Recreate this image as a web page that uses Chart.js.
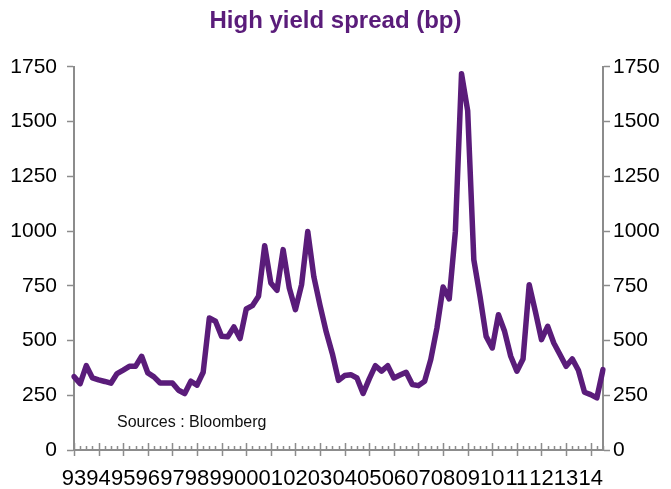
<!DOCTYPE html>
<html>
<head>
<meta charset="utf-8">
<script src="https://cdn.jsdelivr.net/npm/chart.js@4/dist/chart.umd.min.js"></script>
<style>
  body { margin: 0; background: #fff; }
  #wrap { width: 671px; height: 489px; }
</style>
</head>
<body>
<div id="wrap"><canvas id="spread-chart"></canvas></div>
<script>
// year tick labels (one per year, data is quarterly)
const yearLabels = ['93','94','95','96','97','98','99','00','01','02','03','04','05','06','07','08','09','10','11','12','13','14'];
// high yield spread in bp, quarterly from 1993 Q1 to 2014 Q3
const spread = [
  335, 303, 385, 329, 320, 313, 305, 349,
  365, 382, 382, 428, 352, 334, 306, 306,
  306, 273, 258, 314, 296, 355, 603, 588,
  519, 517, 562, 509, 644, 659, 702, 933,
  763, 729, 915, 740, 641, 755, 998, 790,
  660, 540, 440, 318, 340, 344, 329, 258,
  325, 385, 360, 385, 329, 342, 355, 299,
  294, 314, 413, 557, 744, 690, 998, 1718,
  1550, 869, 702, 519, 466, 618, 542, 428,
  360, 416, 755, 633, 504, 565, 489, 436,
  382, 416, 364, 264, 253, 238, 367
];
const yTicks = [0, 250, 500, 750, 1000, 1250, 1500, 1750];

const purple = '#5a1c7a';
const axisGrey = '#8c8c8c';
const labels = spread.map((v, i) => i % 4 === 0 ? yearLabels[i / 4] : '');

// minor / major tick marks on the x axis plus the source note
const extras = {
  id: 'extras',
  afterDraw(chart) {
    const ctx = chart.ctx;
    const x = chart.scales.x;
    const yb = x.top;
    ctx.save();
    ctx.strokeStyle = axisGrey;
    ctx.lineWidth = 1.5;
    ctx.beginPath();
    for (let i = 0; i < spread.length; i++) {
      const px = Math.round(x.getPixelForValue(i)) + 0.5;
      if (i % 4 === 0) {
        ctx.moveTo(px, yb - 7);
        ctx.lineTo(px, yb + 6);
      } else {
        ctx.moveTo(px, yb - 4);
        ctx.lineTo(px, yb);
      }
    }
    ctx.stroke();
    ctx.fillStyle = '#111';
    ctx.font = '16px "Liberation Sans", Arial, sans-serif';
    ctx.textBaseline = 'middle';
    ctx.fillText('Sources : Bloomberg', 117, 423);
    ctx.restore();
  }
};

const fontFamily = '"Liberation Sans", Arial, sans-serif';

new Chart(document.getElementById('spread-chart'), {
  type: 'line',
  data: {
    labels: labels,
    datasets: [{
      data: spread,
      borderColor: purple,
      borderWidth: 5.5,
      borderJoinStyle: 'round',
      borderCapStyle: 'round',
      pointRadius: 0,
      tension: 0,
      fill: false
    }]
  },
  options: {
    responsive: true,
    maintainAspectRatio: false,
    animation: false,
    layout: { padding: 0 },
    plugins: {
      legend: { display: false },
      tooltip: { enabled: false },
      title: {
        display: true,
        text: 'High yield spread (bp)',
        color: purple,
        font: { family: fontFamily, size: 24, weight: 'bold' },
        padding: { top: 7, bottom: 31 }
      }
    },
    scales: {
      x: {
        type: 'category',
        offset: false,
        grid: { display: false },
        border: { display: true, color: axisGrey, width: 2 },
        ticks: {
          autoSkip: false,
          maxRotation: 0,
          color: '#000',
          font: { family: fontFamily, size: 22 },
          padding: 8
        },
        afterFit: s => { s.height = 39; }
      },
      y: {
        position: 'left',
        min: 0,
        max: 1750,
        afterBuildTicks: s => { s.ticks = yTicks.map(v => ({ value: v })); },
        grid: { drawOnChartArea: false, tickLength: 7, tickColor: axisGrey, tickWidth: 1.5 },
        border: { display: true, color: axisGrey, width: 2 },
        ticks: { color: '#000', font: { family: fontFamily, size: 21 }, padding: 10, callback: v => String(v) },
        afterFit: s => { s.width = 74; }
      },
      y2: {
        position: 'right',
        min: 0,
        max: 1750,
        afterBuildTicks: s => { s.ticks = yTicks.map(v => ({ value: v })); },
        grid: { drawOnChartArea: false, tickLength: 7, tickColor: axisGrey, tickWidth: 1.5 },
        border: { display: true, color: axisGrey, width: 2 },
        ticks: { color: '#000', font: { family: fontFamily, size: 21 }, padding: 3, callback: v => String(v) },
        afterFit: s => { s.width = 68; }
      }
    }
  },
  plugins: [extras]
});
</script>
</body>
</html>
